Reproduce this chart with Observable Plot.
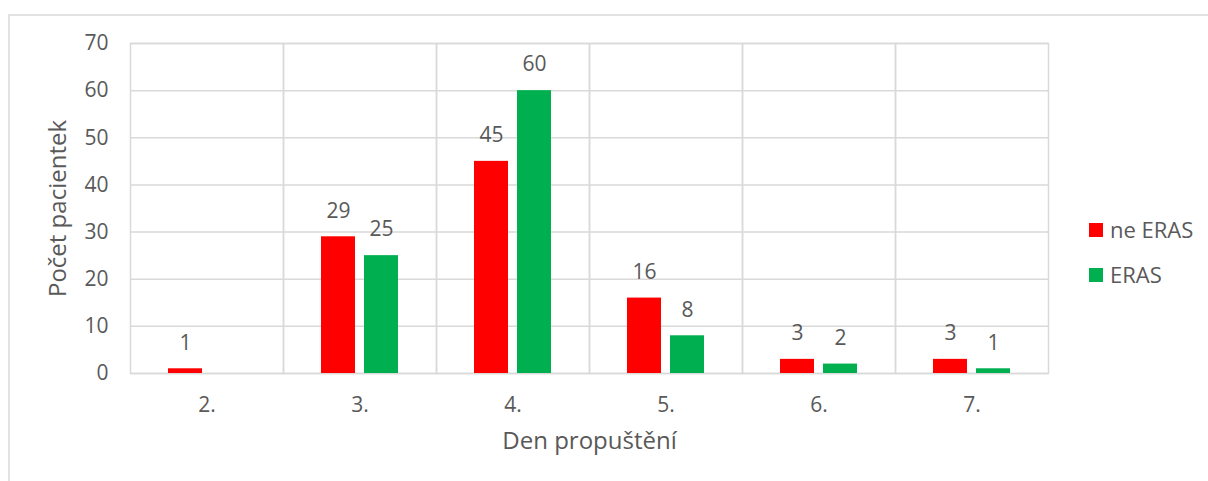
<!DOCTYPE html>
<html>
<head>
<meta charset="utf-8">
<script src="https://cdn.jsdelivr.net/npm/d3@7"></script>
<script src="https://cdn.jsdelivr.net/npm/@observablehq/plot@0.6"></script>
<style>
  html, body { margin: 0; padding: 0; background: #fff; overflow: hidden; }
  #wrap { position: relative; width: 1208px; height: 481px; font-family: "Open Sans", sans-serif; color: #595959; }
  #border { position: absolute; left: 8px; top: 14px; width: 1300px; height: 600px; border: 2px solid #e2e2e2; box-sizing: border-box; }
  #chart { position: absolute; left: 0; top: 0; }
  #legend { position: absolute; left: 1089px; top: 207px; font-size: 22px; line-height: 45px; }
  .item { display: flex; align-items: center; height: 45px; }
  .sw { width: 14px; height: 14px; margin-right: 7px; }
</style>
</head>
<body>
<div id="wrap">
  <div id="border"></div>
  <div id="chart"></div>
  <div id="legend"></div>
</div>
<script>
const days = ["2.", "3.", "4.", "5.", "6.", "7."];
const series = ["ne ERAS", "ERAS"];
const neEras = [1, 29, 45, 16, 3, 3];
const eras = [0, 25, 60, 8, 2, 1];
const colors = ["#FF0000", "#00B050"];
const yTicks = [0, 10, 20, 30, 40, 50, 60, 70];

const rows = [];
days.forEach((d, i) => {
  rows.push({day: d, series: series[0], value: neEras[i]});
  rows.push({day: d, series: series[1], value: eras[i]});
});

const grid = "#d9d9d9";
const chart = Plot.plot({
  width: 1208,
  height: 481,
  marginLeft: 130,
  marginRight: 160,
  marginTop: 43,
  marginBottom: 108,
  style: {fontFamily: "'Open Sans', sans-serif", fontSize: "21px", color: "#595959", background: "transparent", overflow: "visible"},
  fx: {domain: days, padding: 0, label: "Den propuštění", labelAnchor: "center", labelOffset: 75, tickSize: 0, tickPadding: 24},
  x: {domain: series, paddingInner: 0.2, paddingOuter: 0.84, axis: null},
  y: {domain: [0, 70], ticks: yTicks, tickSize: 0, tickPadding: 22, label: "Počet pacientek", labelAnchor: "center", labelOffset: 82, labelArrow: "none"},
  color: {domain: series, range: colors},
  marks: [
    Plot.gridY(yTicks, {stroke: grid, strokeOpacity: 1, strokeWidth: 1.5}),
    Plot.frame({stroke: grid, strokeWidth: 1.5}),
    Plot.barY(rows, {fx: "day", x: "series", y: "value", fill: "series"}),
    Plot.text(rows.filter(r => r.value > 0), {fx: "day", x: "series", y: "value", text: d => String(d.value), dy: -26, lineAnchor: "middle", fill: "#595959", fontSize: 21})
  ]
});
chart.querySelectorAll("[aria-label='fx-axis label'] text, [aria-label='y-axis label'] text").forEach(t => t.setAttribute("font-size", "24"));
document.getElementById("chart").appendChild(chart);

const legend = document.getElementById("legend");
series.forEach((s, i) => {
  const item = document.createElement("div");
  item.className = "item";
  const sw = document.createElement("div");
  sw.className = "sw";
  sw.style.background = colors[i];
  const label = document.createElement("span");
  label.textContent = s;
  item.appendChild(sw);
  item.appendChild(label);
  legend.appendChild(item);
});
</script>
</body>
</html>
